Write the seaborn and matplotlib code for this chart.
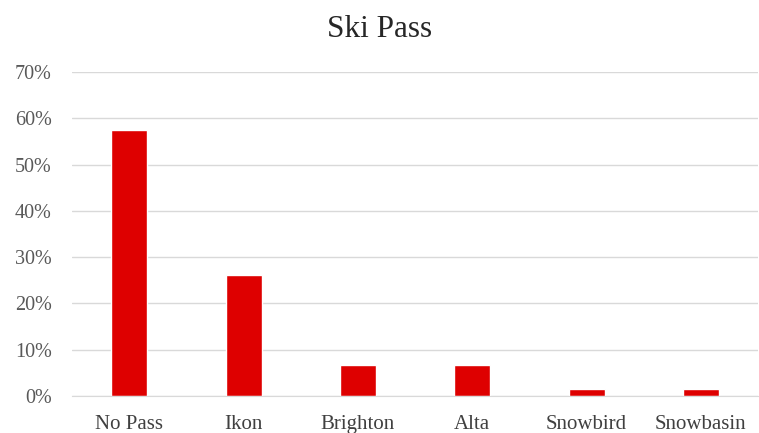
import matplotlib
matplotlib.use("Agg")
import matplotlib.pyplot as plt
import seaborn as sns
import pandas as pd
from matplotlib.ticker import PercentFormatter

passes = ["No Pass", "Ikon", "Brighton", "Alta", "Snowbird", "Snowbasin"]
shares = [0.574, 0.262, 0.066, 0.066, 0.016, 0.016]

df = pd.DataFrame({"Pass": passes, "Share": shares})

sns.set_style("white")
plt.rcParams["font.family"] = ["Liberation Serif", "DejaVu Serif"]

fig = plt.figure(figsize=(7.59, 4.33), dpi=100)
ax = fig.add_axes([0.0949, 0.0855, 0.9038, 0.7482])

sns.barplot(data=df, x="Pass", y="Share", color="#DE0000", saturation=1,
            width=0.315, ax=ax)

ax.set_ylim(0, 0.7)
ax.set_yticks([0, 0.1, 0.2, 0.3, 0.4, 0.5, 0.6, 0.7])
ax.yaxis.set_major_formatter(PercentFormatter(1.0, decimals=0))
ax.grid(axis="y", color="#d9d9d9", linewidth=1)
ax.set_axisbelow(True)
sns.despine(left=True, top=True, right=True)
ax.spines["bottom"].set_color("#d9d9d9")
ax.tick_params(axis="y", length=0, pad=14.5, labelsize=14.5, labelcolor="#595959")
ax.tick_params(axis="x", length=0, pad=14, labelsize=15, labelcolor="#404040")
ax.set_xlabel("")
ax.set_ylabel("")
fig.suptitle("Ski Pass", y=0.965, fontsize=22.5, color="#262626")

plt.savefig("out.png", dpi=100)
